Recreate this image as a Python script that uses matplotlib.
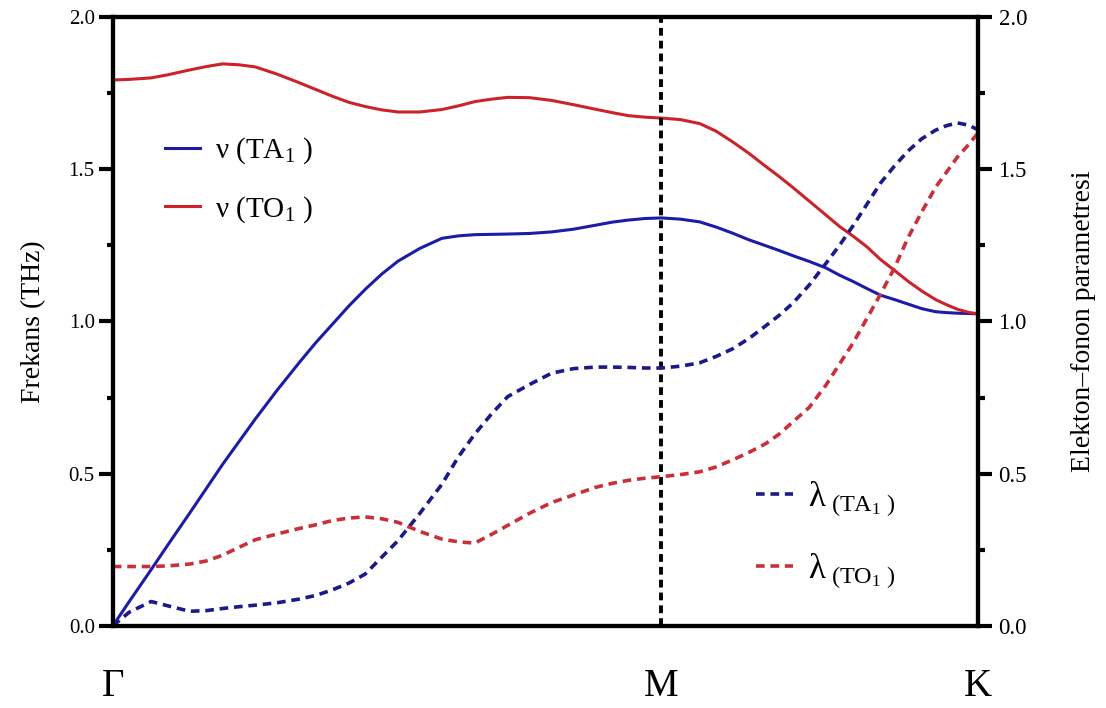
import numpy as np
import matplotlib
matplotlib.use("Agg")
import matplotlib.pyplot as plt
from matplotlib.ticker import MultipleLocator, FormatStrFormatter

plt.rcParams['font.family'] = ['Liberation Serif', 'DejaVu Serif']
plt.rcParams['mathtext.fontset'] = 'custom'
plt.rcParams['mathtext.rm'] = 'Liberation Serif'
plt.rcParams['mathtext.it'] = 'Liberation Serif:italic'

# path coordinate: Gamma=0, M=1, K=1+1/sqrt(3)
q = [0.0, 0.03, 0.07, 0.10, 0.14, 0.17, 0.20, 0.23, 0.26, 0.30, 0.34, 0.37,
     0.40, 0.43, 0.46, 0.49, 0.52, 0.56, 0.60, 0.63, 0.66, 0.69, 0.72, 0.76,
     0.80, 0.84, 0.88, 0.91, 0.94, 0.97, 1.00, 1.035, 1.07, 1.10, 1.13, 1.16,
     1.19, 1.215, 1.24, 1.27, 1.30, 1.325, 1.35, 1.375, 1.40, 1.425, 1.45,
     1.475, 1.50, 1.52, 1.54, 1.56, 1.577]

nu_ta = [0.0, 0.08, 0.185, 0.265, 0.37, 0.45, 0.53, 0.605, 0.68, 0.775, 0.865,
         0.93, 0.99, 1.05, 1.105, 1.155, 1.198, 1.24, 1.273, 1.281, 1.285,
         1.286, 1.287, 1.289, 1.294, 1.303, 1.316, 1.326, 1.333, 1.338, 1.34,
         1.336, 1.327, 1.31, 1.29, 1.268, 1.249, 1.233, 1.216, 1.197, 1.176,
         1.152, 1.131, 1.108, 1.086, 1.072, 1.057, 1.042, 1.032, 1.029, 1.027,
         1.026, 1.025]
nu_to = [1.793, 1.795, 1.80, 1.81, 1.826, 1.837, 1.846, 1.843, 1.836, 1.812,
         1.784, 1.762, 1.74, 1.72, 1.706, 1.695, 1.688, 1.688, 1.696, 1.708,
         1.722, 1.73, 1.736, 1.735, 1.726, 1.712, 1.697, 1.686, 1.676, 1.671,
         1.668, 1.663, 1.65, 1.625, 1.59, 1.552, 1.51, 1.476, 1.44, 1.395,
         1.35, 1.312, 1.28, 1.245, 1.203, 1.168, 1.132, 1.10, 1.072, 1.055,
         1.04, 1.03, 1.025]
lam_ta = [0.0, 0.045, 0.08, 0.066, 0.048, 0.05, 0.057, 0.063, 0.068, 0.076,
          0.088, 0.10, 0.118, 0.14, 0.17, 0.225, 0.28, 0.37, 0.465, 0.555,
          0.63, 0.695, 0.753, 0.793, 0.83, 0.845, 0.85, 0.85, 0.849, 0.847,
          0.847, 0.853, 0.864, 0.885, 0.91, 0.944, 0.985, 1.02, 1.06, 1.12,
          1.19, 1.25, 1.315, 1.385, 1.455, 1.51, 1.56, 1.60, 1.628, 1.643,
          1.652, 1.645, 1.63]
lam_to = [0.195, 0.195, 0.195, 0.197, 0.203, 0.213, 0.232, 0.258, 0.283, 0.302,
          0.32, 0.332, 0.346, 0.354, 0.358, 0.352, 0.34, 0.31, 0.285, 0.276,
          0.272, 0.30, 0.33, 0.37, 0.405, 0.43, 0.455, 0.468, 0.478, 0.485,
          0.49, 0.497, 0.506, 0.522, 0.545, 0.57, 0.598, 0.63, 0.67, 0.718,
          0.79, 0.86, 0.93, 1.01, 1.09, 1.175, 1.275, 1.36, 1.44, 1.49,
          1.54, 1.58, 1.618]

kpoints = [0.0, 1.0, 1.577]
klabels = ['Γ', 'M', 'K']

blue = '#1c1ca6'
red = '#cc2229'

fig = plt.figure(figsize=(11.06, 7.08), dpi=100)
ax = fig.add_axes([0.102, 0.116, 0.782, 0.860])
ax2 = ax.twinx()

l1, = ax.plot(q, nu_ta, color=blue, lw=2.2, label='ν (TA$_1$ )')
l2, = ax.plot(q, nu_to, color=red, lw=2.2, label='ν (TO$_1$ )')
l3, = ax2.plot(q, lam_ta, color='#1a1a88', lw=2.6, dashes=(2.4, 1.6),
               label=r'$\mathrm{\lambda}_{\ (\mathrm{TA}_1\ )}$')
l4, = ax2.plot(q, lam_to, color='#c8303a', lw=2.6, dashes=(2.4, 1.6),
               label=r'$\mathrm{\lambda}_{\ (\mathrm{TO}_1\ )}$')

ax.axvline(kpoints[1], color='black', lw=2.8, dashes=(2.0, 1.3))

for a in (ax, ax2):
    a.set_xlim(kpoints[0], kpoints[-1])
    a.set_ylim(0, 2.0)
    a.yaxis.set_major_locator(MultipleLocator(0.5))
    a.yaxis.set_minor_locator(MultipleLocator(0.25))
    a.yaxis.set_major_formatter(FormatStrFormatter('%.1f'))
    for s in a.spines.values():
        s.set_linewidth(3)

ax.tick_params(axis='y', which='major', length=10, width=3, labelsize=15, pad=3, direction='out')
ax.tick_params(axis='y', which='minor', length=4.5, width=3, direction='out')
ax2.tick_params(axis='y', which='major', length=10, width=3, labelsize=16.5, pad=5, direction='out')
ax2.tick_params(axis='y', which='minor', length=5, width=3, direction='out')

ax.set_xticks(kpoints)
ax.set_xticklabels(klabels, fontsize=28)
ax.tick_params(axis='x', length=0, pad=30)

ax.set_ylabel('Frekans (THz)', fontsize=20, labelpad=16)
ax2.set_ylabel('Elekton–fonon parametresi', fontsize=20, labelpad=32)

ax.legend(handles=[l1, l2], loc='upper left', bbox_to_anchor=(0.030, 0.848),
          frameon=False, fontsize=21, handlelength=1.2, handletextpad=0.5,
          labelspacing=0.95)
ax2.legend(handles=[l3, l4], loc='upper left', bbox_to_anchor=(0.708, 0.291),
           frameon=False, fontsize=25, handlelength=1.05, handletextpad=0.45,
           labelspacing=0.95)

fig.savefig('out.png', dpi=100)
